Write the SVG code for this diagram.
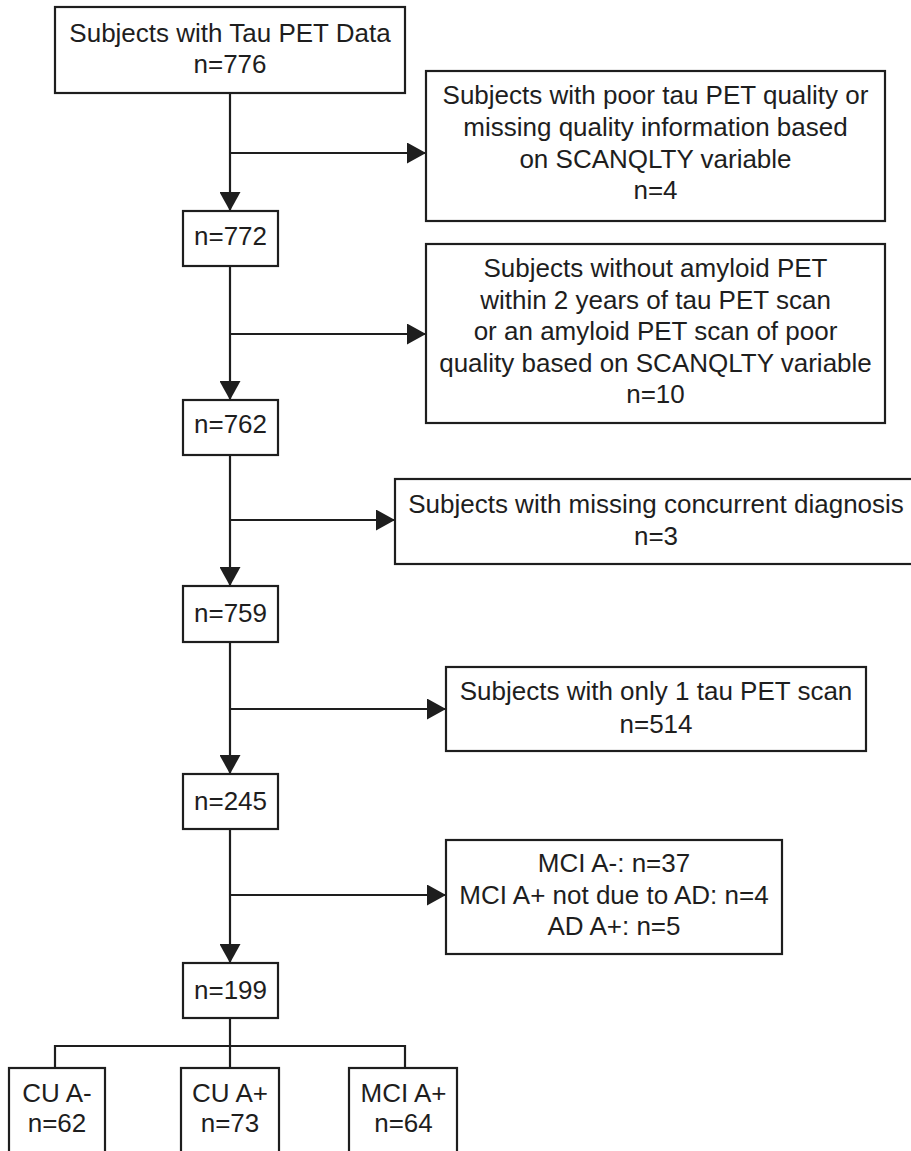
<svg xmlns="http://www.w3.org/2000/svg" width="911" height="1151" viewBox="0 0 911 1151">
<style>
.box{fill:#fff;stroke:#1e1e1e;stroke-width:2.2}
.t{font-family:"Liberation Sans",Arial,sans-serif;font-size:26px;fill:#1e1e1e;text-anchor:middle}
.c{fill:none;stroke:#1e1e1e;stroke-width:2.2}
</style>
<defs>
<marker id="ah" markerUnits="userSpaceOnUse" markerWidth="19" markerHeight="21" refX="19" refY="10.5" orient="auto">
<path d="M0,0 L19,10.5 L0,21 z" fill="#1e1e1e"/>
</marker>
</defs>
<rect width="911" height="1151" fill="#fff"/>
<g id="connectors">
<path class="c" d="M230,93 V211" marker-end="url(#ah)"/>
<path class="c" d="M230,153 H426" marker-end="url(#ah)"/>
<path class="c" d="M230,266 V400" marker-end="url(#ah)"/>
<path class="c" d="M230,334 H426" marker-end="url(#ah)"/>
<path class="c" d="M230,455 V586" marker-end="url(#ah)"/>
<path class="c" d="M230,520 H395" marker-end="url(#ah)"/>
<path class="c" d="M230,642 V774" marker-end="url(#ah)"/>
<path class="c" d="M230,709 H446" marker-end="url(#ah)"/>
<path class="c" d="M230,829 V963" marker-end="url(#ah)"/>
<path class="c" d="M230,895 H446" marker-end="url(#ah)"/>
<path class="c" d="M230,1018 V1068"/>
<path class="c" d="M55,1068 V1046 H405 V1068"/>
</g>
<g id="n776">
<rect class="box" x="55" y="7" width="350" height="86"/>
<text class="t" x="230" y="42">Subjects with Tau PET Data</text>
<text class="t" x="230" y="73">n=776</text>
</g>
<g id="excl1">
<rect class="box" x="426" y="71" width="459" height="150"/>
<text class="t" x="655.5" y="104">Subjects with poor tau PET quality or</text>
<text class="t" x="655.5" y="135.5">missing quality information based</text>
<text class="t" x="655.5" y="167.5">on SCANQLTY variable</text>
<text class="t" x="655.5" y="198.5">n=4</text>
</g>
<g id="n772">
<rect class="box" x="183" y="211" width="95" height="55"/>
<text class="t" x="230.5" y="245">n=772</text>
</g>
<g id="excl2">
<rect class="box" x="426" y="244" width="459" height="179"/>
<text class="t" x="655.5" y="277">Subjects without amyloid PET</text>
<text class="t" x="655.5" y="308.5">within 2 years of tau PET scan</text>
<text class="t" x="655.5" y="340">or an amyloid PET scan of poor</text>
<text class="t" x="655.5" y="371.5">quality based on SCANQLTY variable</text>
<text class="t" x="655.5" y="403">n=10</text>
</g>
<g id="n762">
<rect class="box" x="183" y="400" width="95" height="55"/>
<text class="t" x="230.5" y="433">n=762</text>
</g>
<g id="excl3">
<rect class="box" x="395" y="479" width="523" height="85"/>
<text class="t" x="656" y="513">Subjects with missing concurrent diagnosis</text>
<text class="t" x="656" y="545">n=3</text>
</g>
<g id="n759">
<rect class="box" x="183" y="586" width="95" height="56"/>
<text class="t" x="230.5" y="622">n=759</text>
</g>
<g id="excl4">
<rect class="box" x="446" y="667" width="420" height="84"/>
<text class="t" x="656" y="700">Subjects with only 1 tau PET scan</text>
<text class="t" x="656" y="733">n=514</text>
</g>
<g id="n245">
<rect class="box" x="183" y="774" width="95" height="55"/>
<text class="t" x="230.5" y="810">n=245</text>
</g>
<g id="excl5">
<rect class="box" x="446" y="840" width="336" height="114"/>
<text class="t" x="614" y="872">MCI A-: n=37</text>
<text class="t" x="614" y="903.5">MCI A+ not due to AD: n=4</text>
<text class="t" x="614" y="935">AD A+: n=5</text>
</g>
<g id="n199">
<rect class="box" x="183" y="963" width="95" height="55"/>
<text class="t" x="230.5" y="998.5">n=199</text>
</g>
<g id="cuAneg">
<rect class="box" x="9" y="1068" width="96" height="90"/>
<text class="t" x="57" y="1102">CU A-</text>
<text class="t" x="57" y="1132">n=62</text>
</g>
<g id="cuApos">
<rect class="box" x="181" y="1068" width="98" height="90"/>
<text class="t" x="230" y="1102">CU A+</text>
<text class="t" x="230" y="1132">n=73</text>
</g>
<g id="mciApos">
<rect class="box" x="349" y="1068" width="108" height="90"/>
<text class="t" x="403.5" y="1102">MCI A+</text>
<text class="t" x="403.5" y="1132">n=64</text>
</g>
</svg>
